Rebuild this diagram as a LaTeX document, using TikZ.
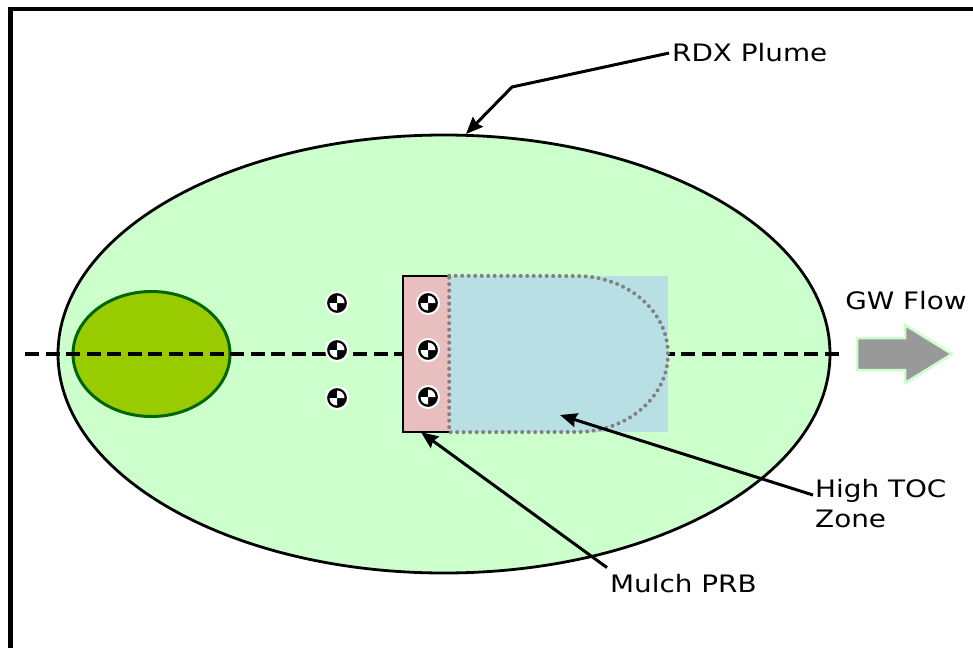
\documentclass[tikz,border=0pt]{standalone}
\usepackage{fontspec}
\setmainfont[FakeStretch=1.16]{DejaVu Sans}
\usepackage{tikz}
\usetikzlibrary{arrows.meta}
\usetikzlibrary{shapes.geometric}
\tikzset{>={Stealth[length=17pt,width=14pt,inset=2pt]}}
\newcommand{\wellmark}[2]{% {node}{position}
	\node[well] (#1) at (#2) {};
	\fill[white] (#1.center) -- ++(7.5pt,0pt) arc[start angle=0,end angle=90,radius=7.5pt] -- cycle; % upper right
	\fill[white] (#1.center) -- ++(-7.5pt,0pt) arc[start angle=180,end angle=270,radius=7.5pt] -- cycle % lower left
}
\definecolor{plume}{RGB}{204,255,204}
\definecolor{source}{RGB}{153,204,0}
\definecolor{sourceedge}{RGB}{0,102,0}
\definecolor{mulch}{RGB}{232,190,190}
\definecolor{toc}{RGB}{184,223,227}
\definecolor{dots}{RGB}{128,128,128}
\definecolor{flow}{RGB}{153,153,153}
\tikzset{
	well/.style={circle, fill=black, draw=white, line width=2pt, minimum size=22pt, inner sep=0pt},
	lab/.style={font=\fontsize{24}{30}\selectfont, inner sep=0pt},
	leader/.style={->, line width=3pt},
}

\begin{document}
\begin{tikzpicture}[x=1pt,y=-1pt]
				\useasboundingbox (0,0) rectangle (973,647);
				\clip (0,0) rectangle (973,647);
				\draw[line width=4.5pt] (10.5,660) -- (10.5,9) -- (990,9);

				\node[ellipse, draw, fill=plume, line width=2.8pt, minimum width=772pt, minimum height=438pt, inner sep=0pt] (plume) at (444,354) {};
				\node[ellipse, draw=sourceedge, fill=source, line width=3pt, minimum width=157pt, minimum height=125pt, inner sep=0pt] (src) at (151.5,354) {};

				\coordinate (pathW) at (25,354);
				\coordinate (pathE) at (845,354);
				\draw[line width=4pt, dash pattern=on 14pt off 6.5pt] (pathW) -- (pathE);

				\node[fill=mulch, minimum width=46pt, minimum height=156pt, inner sep=0pt] (prb) at (426,354) {};
				\fill[toc] (prb.north east) rectangle (668,432);
				\draw[line width=2pt] (prb.north east) -- (prb.north west) -- (prb.south west) -- (prb.south east);
				\draw[dots, line width=4pt, line cap=round, dash pattern=on 0pt off 6.5pt] (prb.north east) -- (577,276)
				arc[start angle=90, end angle=-90, x radius=91pt, y radius=78pt] -- (prb.south east) -- cycle;

				\wellmark{w1}{337,303};
				\wellmark{w2}{337,350};
				\wellmark{w3}{337,398};
				\wellmark{w4}{428,303};
				\wellmark{w5}{428,350};
				\wellmark{w6}{428,397};

				\draw[draw=plume, fill=flow, line width=2.5pt] (857,338) -- (905,338) -- (905,325) -- (952,354)
				-- (905,383) -- (905,370) -- (857,370) -- cycle;
				\node[lab, anchor=base] (gw) at (906,309) {GW Flow};

				\node[lab, anchor=base west] (rdx) at (672,62) {RDX Plume};
				\node[lab, anchor=base west] (mulchlab) at (610,592) {Mulch PRB};
				\node[lab, anchor=north west, align=left] (toclab) at (815,479) {High TOC\\Zone};

				\coordinate (rdxbend) at (512,87);
				\coordinate (plumetop) at (466,134);
				\coordinate (prbtip) at ([xshift=-5pt]prb.south);
				\coordinate (tocpt) at (560,415);

				\draw[leader] ([xshift=-3pt]rdx.west) -- (rdxbend) -- (plumetop);
				\draw[leader] ([shift={(-3pt,6pt)}]mulchlab.north west) -- (prbtip);
				\draw[leader] ([shift={(-2pt,-16pt)}]toclab.north west) -- (tocpt);
			 \end{tikzpicture}
\end{document}
